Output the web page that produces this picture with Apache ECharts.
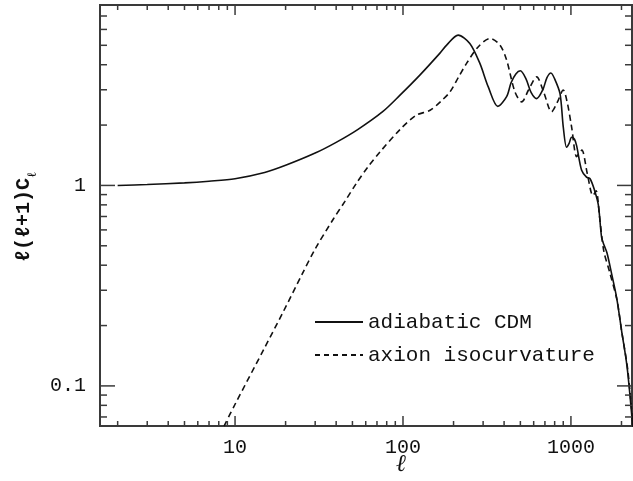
<!DOCTYPE html>
<html>
<head>
<meta charset="utf-8">
<script src="https://cdn.jsdelivr.net/npm/echarts@6/dist/echarts.min.js"></script>
<style>html,body{margin:0;padding:0;background:#fff;}#c{width:633px;height:481px;}</style>
</head>
<body>
<div id="c"></div>
<script>
// ---- data ----
var seriesNames = ['adiabatic CDM', 'axion isocurvature'];
var adiabaticL = [2,3,5,7,10,15,20,30,40,54,76,96,126,166,182,213,250,287,322,367,414,440,470,500,540,580,625,680,720,760,800,861,900,942,975,1009,1050,1081,1158,1238,1300,1380,1456,1523,1580,1640,1750,1871,2000,2163,2339];
var adiabaticC = [1.00,1.01,1.03,1.05,1.08,1.16,1.26,1.45,1.64,1.905,2.34,2.82,3.55,4.57,5.01,5.62,5.11,4.06,3.10,2.48,2.77,3.25,3.60,3.73,3.40,2.90,2.71,3.00,3.45,3.64,3.40,2.87,1.96,1.55,1.62,1.74,1.70,1.58,1.19,1.10,1.08,0.95,0.80,0.55,0.50,0.46,0.36,0.276,0.19,0.123,0.061];
var axionL = [8.6,10,15,19.4,25,30,38.5,45,53,62,73,96,120,145,170,190.6,215,239,281,330,378,414,464,509,560,625,690,767,830,900,950,1009,1081,1120,1162,1250,1352,1412,1480,1570,1700,1883,2000,2183,2340];
var axionC = [0.063,0.081,0.155,0.235,0.359,0.482,0.68,0.83,1.03,1.24,1.47,1.90,2.24,2.37,2.65,2.93,3.49,4.06,4.92,5.41,5.01,4.22,2.93,2.61,3.00,3.48,2.90,2.33,2.60,2.99,2.60,1.96,1.39,1.45,1.50,1.15,0.89,0.94,0.70,0.47,0.37,0.266,0.19,0.119,0.063];
var xMajorTicks = [10, 100, 1000];
var xMinorTicks = [2,3,4,5,6,7,8,9,20,30,40,50,60,70,80,90,200,300,400,500,600,700,800,900,2000];
var yMajorTicks = [0.1, 1];
var yMinorTicks = [0.07,0.08,0.09,0.2,0.3,0.4,0.5,0.6,0.7,0.8,0.9,2,3,4,5,6,7];
var xTickLabels = ['10', '100', '1000'];
var yTickLabels = ['0.1', '1'];
var X_MIN = 1.57, X_MAX = 2310, Y_MIN = 0.0631, Y_MAX = 7.943;

function zip(a, b) { return a.map(function (v, i) { return [v, b[i]]; }); }
function labelFor(v, majors, labels) {
  for (var i = 0; i < majors.length; i++) {
    if (Math.abs(Math.log10(v) - Math.log10(majors[i])) < 1e-6) return labels[i];
  }
  return '';
}

var FONT = '"Liberation Mono", "DejaVu Sans Mono", monospace';
var INK = '#111';
var AXC = '#3a3a3a';

var xTickData = xMajorTicks.map(function (v) { return [v, Y_MIN, 1]; })
  .concat(xMinorTicks.map(function (v) { return [v, Y_MIN, 0]; }));
var yTickData = yMajorTicks.map(function (v) { return [X_MIN, v, 1]; })
  .concat(yMinorTicks.map(function (v) { return [X_MIN, v, 0]; }));

var chart = echarts.init(document.getElementById('c'), null, { renderer: 'canvas' });
chart.setOption({
  animation: false,
  backgroundColor: '#fff',
  grid: { left: 100, right: 1, top: 5, bottom: 55, show: true, borderColor: AXC, borderWidth: 2, backgroundColor: 'transparent' },
  xAxis: {
    type: 'log', logBase: 10, min: X_MIN, max: X_MAX,
    axisLine: { show: true, lineStyle: { color: AXC, width: 2 } },
    axisTick: { show: false },
    splitLine: { show: false },
    axisLabel: {
      show: true, margin: 12, color: INK, fontFamily: FONT, fontSize: 20,
      showMinLabel: false, showMaxLabel: false,
      formatter: function (v) { return labelFor(v, xMajorTicks, xTickLabels); }
    }
  },
  yAxis: {
    type: 'log', logBase: 10, min: Y_MIN, max: Y_MAX,
    axisLine: { show: true, lineStyle: { color: AXC, width: 2 } },
    axisTick: { show: false },
    splitLine: { show: false },
    axisLabel: {
      show: true, margin: 14, color: INK, fontFamily: FONT, fontSize: 20,
      showMinLabel: false, showMaxLabel: false,
      formatter: function (v) { return labelFor(v, yMajorTicks, yTickLabels); }
    }
  },
  legend: {
    orient: 'vertical', left: 310, top: 306, itemWidth: 48, itemHeight: 14, itemGap: 11,
    textStyle: { fontFamily: FONT, fontSize: 21, color: INK, lineHeight: 22 },
    data: [
      { name: seriesNames[0], icon: 'path://M0,6 L48,6 L48,8 L0,8 Z', itemStyle: { color: INK } },
      { name: seriesNames[1], icon: 'path://M0,6 L5,6 L5,8 L0,8 Z M9,6 L14,6 L14,8 L9,8 Z M18,6 L23,6 L23,8 L18,8 Z M27,6 L32,6 L32,8 L27,8 Z M36,6 L41,6 L41,8 L36,8 Z M45,6 L48,6 L48,8 L45,8 Z', itemStyle: { color: INK } }
    ]
  },
  graphic: [
    { type: 'text', left: 396, top: 453, style: { text: 'ℓ', font: 'italic 24px "DejaVu Serif", serif', fill: INK } },
    { type: 'group', x: 14, y: 262, rotation: Math.PI / 2,
      children: [
        { type: 'text', x: 0, y: 0, style: { text: 'ℓ(ℓ+1)C', font: 'bold 20px "Liberation Mono", monospace', fill: INK, verticalAlign: 'top' } },
        { type: 'text', x: 85, y: 12, style: { text: 'ℓ', font: 'bold 13px "DejaVu Serif", serif', fill: INK, verticalAlign: 'top' } }
      ]
    }
  ],
  series: [
    {
      name: seriesNames[0], type: 'line', data: zip(adiabaticL, adiabaticC),
      showSymbol: false, symbol: 'none', smooth: 0.3, clip: true,
      lineStyle: { color: INK, width: 1.6, type: 'solid' }, itemStyle: { color: INK }, z: 3
    },
    {
      name: seriesNames[1], type: 'line', data: zip(axionL, axionC),
      showSymbol: false, symbol: 'none', smooth: 0.3, clip: true,
      lineStyle: { color: INK, width: 1.6, type: [6, 4] }, itemStyle: { color: INK }, z: 3
    },
    {
      type: 'custom', coordinateSystem: 'cartesian2d', data: xTickData, silent: true, clip: false, z: 4,
      renderItem: function (params, api) {
        var p = api.coord([api.value(0), Y_MIN]);
        var top = api.coord([api.value(0), Y_MAX]);
        var len = api.value(2) ? 10 : 5;
        return { type: 'group', children: [
          { type: 'line', shape: { x1: p[0], y1: p[1], x2: p[0], y2: p[1] - len }, style: { stroke: AXC, lineWidth: 1.5 } },
          { type: 'line', shape: { x1: top[0], y1: top[1], x2: top[0], y2: top[1] + len }, style: { stroke: AXC, lineWidth: 1.5 } }
        ] };
      }
    },
    {
      type: 'custom', coordinateSystem: 'cartesian2d', data: yTickData, silent: true, clip: false, z: 4,
      renderItem: function (params, api) {
        var p = api.coord([X_MIN, api.value(1)]);
        var r = api.coord([X_MAX, api.value(1)]);
        var len = api.value(2) ? 15 : 7;
        return { type: 'group', children: [
          { type: 'line', shape: { x1: p[0], y1: p[1], x2: p[0] + len, y2: p[1] }, style: { stroke: AXC, lineWidth: 1.5 } },
          { type: 'line', shape: { x1: r[0], y1: r[1], x2: r[0] - len, y2: r[1] }, style: { stroke: AXC, lineWidth: 1.5 } }
        ] };
      }
    }
  ]
});
</script>
</body>
</html>
